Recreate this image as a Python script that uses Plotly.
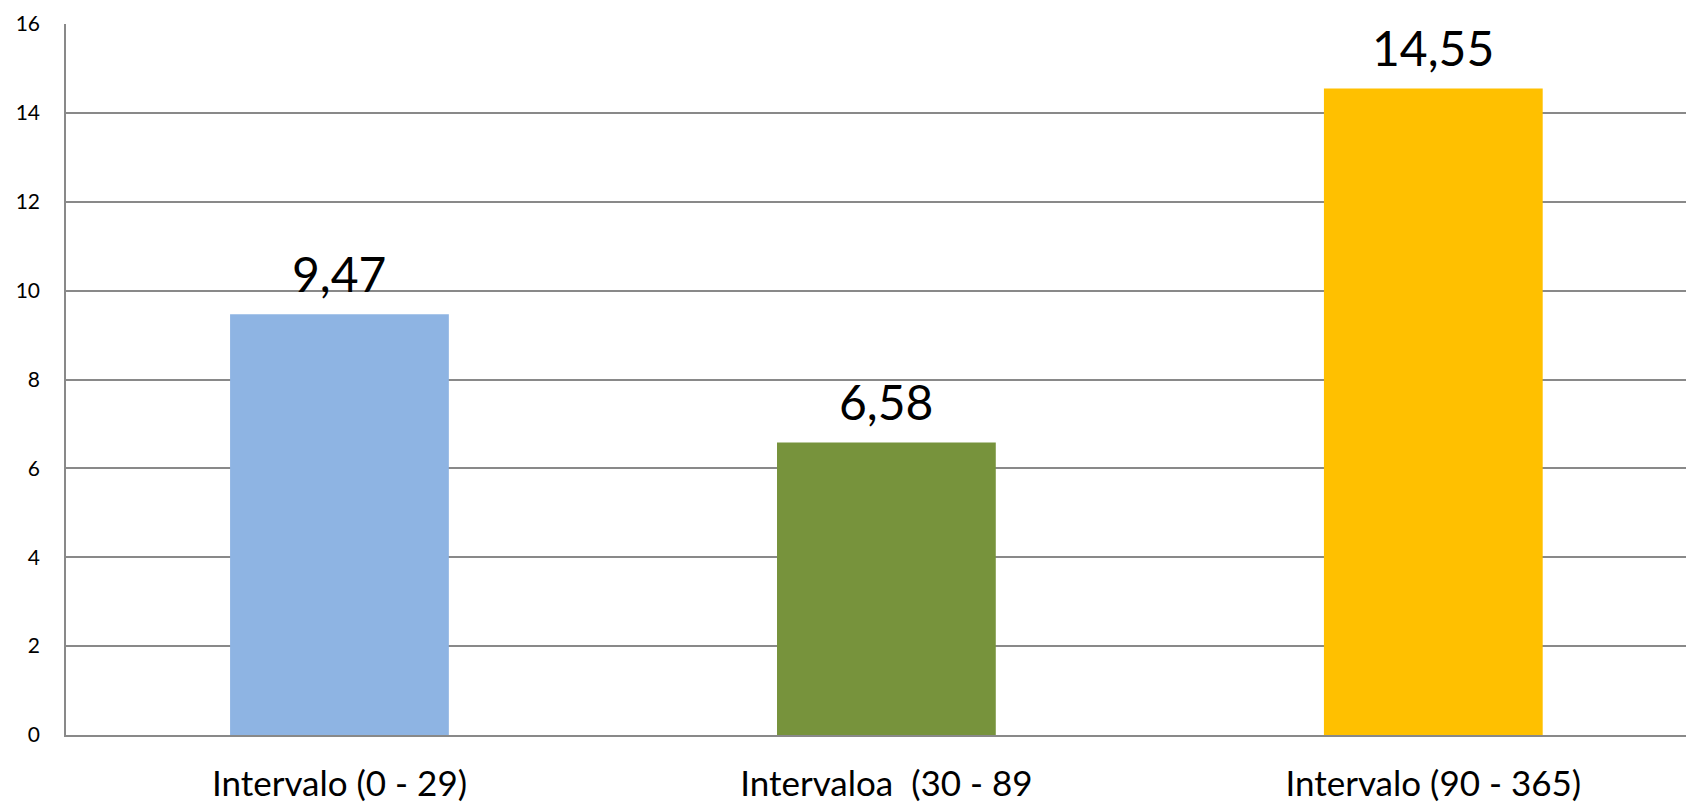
import plotly.graph_objects as go

categories = ["Intervalo (0 - 29)", "Intervaloa  (30 - 89", "Intervalo (90 - 365)"]
values = [9.47, 6.58, 14.55]
bar_colors = ["#8EB4E3", "#77933C", "#FFC000"]
y_ticks = [0, 2, 4, 6, 8, 10, 12, 14, 16]

FONT = "Lato"
GRID = "#898989"

fig = go.Figure()
fig.add_trace(go.Bar(
    x=categories, y=values,
    marker=dict(color=bar_colors, line=dict(width=0)),
    width=0.40,
    hoverinfo="skip",
))

for c, v in zip(categories, values):
    fig.add_annotation(
        x=c, y=v, text=f"{v:.2f}".replace(".", ","),
        showarrow=False, yanchor="middle", yshift=41,
        font=dict(family=FONT, size=48, color="#000000"),
    )

fig.update_layout(
    width=1686, height=803,
    margin=dict(l=66, r=0, t=24, b=66),
    paper_bgcolor="white", plot_bgcolor="white",
    showlegend=False,
    bargap=0.6,
    font=dict(family=FONT, color="#000000"),
)
fig.update_xaxes(
    type="category",
    range=[-0.5, 2.462],
    showgrid=False,
    showline=True, linecolor=GRID, linewidth=1.5,
    ticks="", tickfont=dict(family=FONT, size=35, color="#000000"),
    ticklabelstandoff=17,
    fixedrange=True,
)
fig.update_yaxes(
    range=[0, 16],
    tickvals=y_ticks,
    showgrid=True, gridcolor=GRID, gridwidth=1.5,
    showline=True, linecolor=GRID, linewidth=1.5,
    zeroline=False,
    ticks="", tickfont=dict(family=FONT, size=21, color="#000000"),
    ticklabelstandoff=20,
    fixedrange=True,
)

fig.write_html(
    "out.html",
    config={"displayModeBar": False},
    post_script="document.body.style.margin='0';document.body.style.overflow='hidden';",
)
